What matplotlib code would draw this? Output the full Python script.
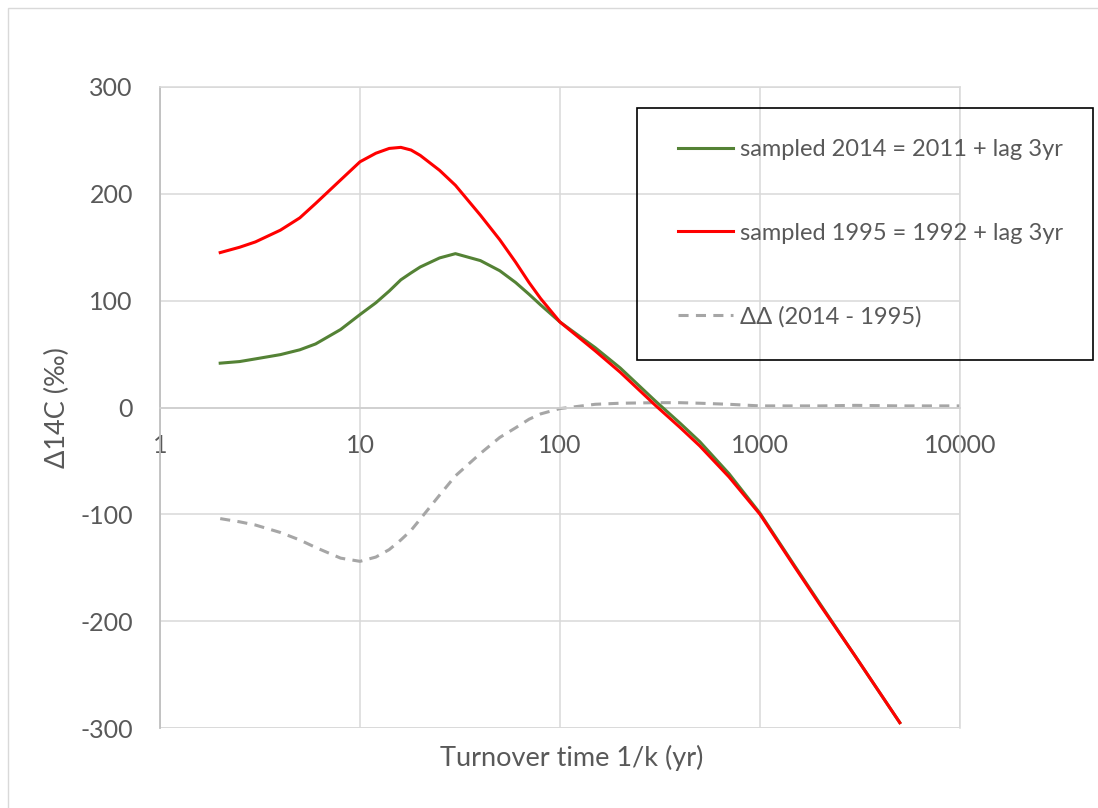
import matplotlib
matplotlib.use("Agg")
import matplotlib.pyplot as plt
from matplotlib.lines import Line2D
from matplotlib.patches import Rectangle

plt.rcParams["font.family"] = ["Lato", "DejaVu Sans"]

TEXT = "#595959"
GRID = "#d9d9d9"

# turnover time (yr) and Δ14C (‰)
turnover = [2, 2.5, 3, 4, 5, 6, 8, 10, 12, 14, 16, 18, 20, 25, 30, 40, 50, 60, 70, 80, 100,
            150, 200, 300, 400, 500, 700, 1000, 1500, 2000, 3000, 5000]
sampled_2014 = [41.5, 43, 45.5, 49.5, 54, 59.5, 73, 87, 98, 109, 119.5, 126, 131.5, 140, 144,
                137.5, 128, 117, 106, 96, 80, 56, 37, 6, -15, -32, -62, -99, -149, -184, -233, -295]
sampled_1995 = [145, 150, 155, 166, 177.5, 191, 213, 230, 238, 242.5, 243.5, 241, 236, 222, 208,
                180, 157, 136, 117, 102, 80, 53, 33, 2, -19, -36, -65, -100, -150, -185, -233, -295]

turnover_dd = [2, 2.5, 3, 4, 5, 6, 8, 10, 12, 14, 16, 18, 20, 25, 30, 40, 50, 60, 70, 80, 100,
               150, 200, 300, 400, 500, 700, 1000, 1500, 2000, 3000, 5000, 10000]
delta_delta = [-104, -107, -110, -117, -124, -131, -141, -144, -140, -133, -124, -115, -104.5, -82,
               -64, -43, -28, -19, -11, -6, -1, 3, 4, 4.5, 4.5, 4, 3, 1.5, 1.5, 1.5, 2, 1.5, 1.5]

labels = ["sampled 2014 = 2011 + lag 3yr", "sampled 1995 = 1992 + lag 3yr", "ΔΔ (2014 - 1995)"]
colors = ["#548235", "#ff0000", "#a6a6a6"]
x_ticks = [1, 10, 100, 1000, 10000]
y_ticks = [-300, -200, -100, 0, 100, 200, 300]
DASH = (3.3, 2.4)

W, H = 1098, 808
fig = plt.figure(figsize=(W / 100, H / 100), dpi=100)
ax = fig.add_axes([160 / W, 1 - 728 / H, 800 / W, 641 / H])

ax.plot(turnover, sampled_2014, color=colors[0], lw=2.2, zorder=3)
ax.plot(turnover, sampled_1995, color=colors[1], lw=2.2, zorder=4)
ax.plot(turnover_dd, delta_delta, color=colors[2], lw=2.2, dashes=DASH, zorder=2)

ax.set_xscale("log")
ax.set_xlim(1, 10000)
ax.set_ylim(-300, 300)
ax.set_xticks(x_ticks)
ax.set_xticklabels([str(t) for t in x_ticks])
ax.minorticks_off()
ax.set_yticks(y_ticks)
ax.set_yticklabels([str(t) for t in y_ticks])
ax.grid(True, color=GRID, lw=1.1, zorder=0)
ax.set_axisbelow(True)

for s in ("top", "right"):
    ax.spines[s].set_color(GRID)
    ax.spines[s].set_linewidth(1.1)
ax.spines["left"].set_color("#bfbfbf")
ax.spines["left"].set_linewidth(1.3)
ax.spines["bottom"].set_position(("data", 0))
ax.spines["bottom"].set_color("#d0d0d0")
ax.spines["bottom"].set_linewidth(1.3)
ax.axhline(-300, color=GRID, lw=1.1, zorder=0)

ax.tick_params(axis="both", length=0, labelsize=18, labelcolor=TEXT)
ax.tick_params(axis="x", pad=19)
ax.tick_params(axis="y", pad=19.5)

fig.text(572 / W, 1 - 758 / H, "Turnover time 1/k (yr)", ha="center", va="center",
         fontsize=19.5, color=TEXT)
fig.text(57.5 / W, 1 - 408 / H, "Δ14C (‰)", ha="center", va="center", rotation=90,
         fontsize=19.5, color=TEXT)

# legend with a fixed black frame
fig.patches.append(Rectangle((637 / W, 1 - 360 / H), 456 / W, 252 / H, transform=fig.transFigure,
                             fill=False, edgecolor="black", lw=1.2, zorder=5))
handles = [Line2D([0], [0], color=colors[0], lw=2.2),
           Line2D([0], [0], color=colors[1], lw=2.2),
           Line2D([0], [0], color=colors[2], lw=2.2, dashes=DASH)]
leg = fig.legend(handles, labels, loc="upper left", bbox_to_anchor=(678 / W, 1 - 139 / H),
                 frameon=False, fontsize=17, labelcolor=TEXT, handlelength=2.33,
                 handletextpad=0.3, labelspacing=2.65, borderpad=0, borderaxespad=0)

# outer chart border
fig.patches.append(Rectangle((8 / W, -0.1), 1.2, 1.1 - 8 / H, transform=fig.transFigure,
                             fill=False, edgecolor=GRID, lw=1.0))

fig.savefig("out.png", dpi=100)
